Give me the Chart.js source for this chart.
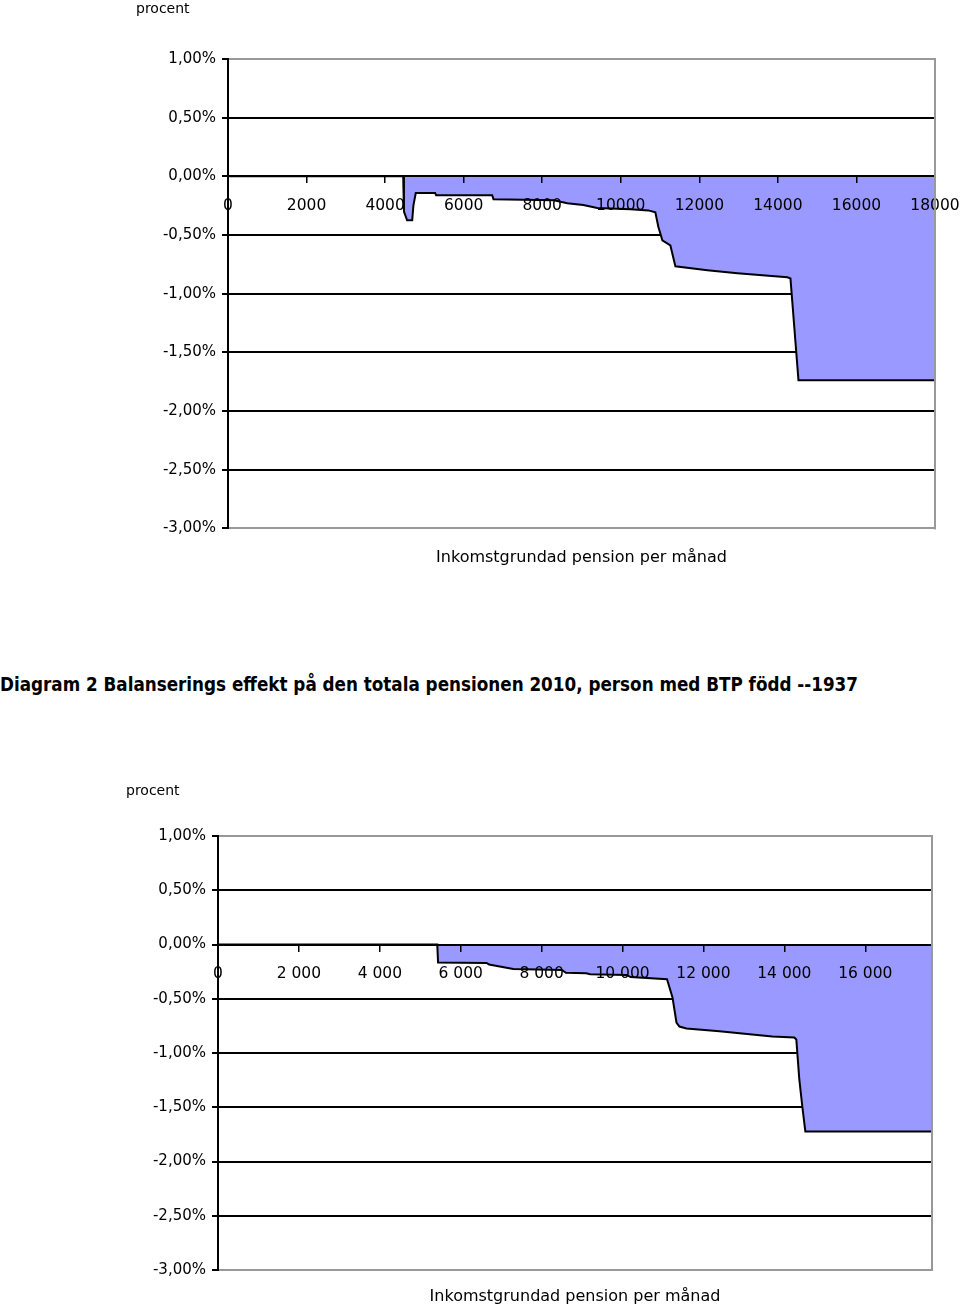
<!DOCTYPE html>
<html>
<head>
<meta charset="utf-8">
<script src="https://cdn.jsdelivr.net/npm/chart.js@4.4.1/dist/chart.umd.min.js"></script>
<style>
  html, body { margin: 0; padding: 0; background: #fff; }
  body { width: 960px; height: 1306px; position: relative; overflow: hidden; }
  canvas { position: absolute; left: 0; }
  #c1 { top: 0; }
  #c2 { top: 782px; }
  #caption {
    position: absolute; left: 0; top: 673px;
    font: bold 19px "DejaVu Sans Condensed", "DejaVu Sans", sans-serif;
    white-space: nowrap; transform-origin: 0 0; color: #000;
  }
</style>
</head>
<body>
<canvas id="c1" width="960" height="567"></canvas>
<div id="caption">Diagram 2 Balanserings effekt på den totala pensionen 2010, person med BTP född --1937</div>
<canvas id="c2" width="960" height="524"></canvas>
<script>
// upper chart: income (kr/month) and effect in percent
const income1 = [0, 4460, 4480, 4560, 4690, 4720, 4780, 5274, 5300, 6727, 6760, 8300, 8638, 9045, 9402, 10243, 10702, 10880, 10956, 11058, 11262, 11390, 12204, 12969, 14243, 14320, 14524, 18000];
const effect1 = [0, 0, -0.30, -0.375, -0.375, -0.25, -0.142, -0.142, -0.162, -0.162, -0.196, -0.204, -0.23, -0.245, -0.27, -0.28, -0.29, -0.307, -0.43, -0.545, -0.588, -0.767, -0.80, -0.826, -0.86, -0.87, -1.738, -1.738];
const xTicks1 = [0, 2000, 4000, 6000, 8000, 10000, 12000, 14000, 16000, 18000];

// lower chart (person med BTP född 1937)
const income2 = [0, 5420, 5440, 6640, 6700, 7300, 8500, 8600, 9100, 9200, 10100, 10200, 11100, 11235, 11333, 11407, 11580, 12395, 13704, 14247, 14296, 14370, 14444, 14519, 17650];
const effect2 = [0, 0, -0.166, -0.17, -0.185, -0.225, -0.235, -0.26, -0.265, -0.275, -0.28, -0.30, -0.32, -0.488, -0.719, -0.756, -0.774, -0.80, -0.848, -0.857, -0.876, -1.244, -1.493, -1.724, -1.724];
const xTicks2 = [0, 2000, 4000, 6000, 8000, 10000, 12000, 14000, 16000];

const yTicks = [1, 0.5, 0, -0.5, -1, -1.5, -2, -2.5, -3];
const yTitle = 'procent';
const xTitle = 'Inkomstgrundad pension per månad';

const tickFont = { family: '"DejaVu Sans", sans-serif', size: 15 };
const xTickFont = { family: '"DejaVu Sans", sans-serif', size: 15.5 };

// gray frame on the right side of the plot area
const rightFrame = {
  id: 'rightFrame',
  afterDraw(chart) {
    const { ctx, chartArea: a } = chart;
    ctx.save();
    ctx.strokeStyle = '#999';
    ctx.lineWidth = 2;
    ctx.beginPath();
    ctx.moveTo(a.right, a.top - 1);
    ctx.lineTo(a.right, a.bottom + 1);
    ctx.stroke();
    ctx.restore();
  }
};

function makeChart(id, xs, ys, xTicks, xMax, spaced, pad) {
  const fmtX = v => spaced ? String(v).replace(/\B(?=(\d{3})+(?!\d))/g, ' ') : String(v);
  const yMax = Math.max(...yTicks), yMin = Math.min(...yTicks);
  return new Chart(document.getElementById(id), {
    type: 'line',
    data: {
      datasets: [{
        data: xs.map((x, i) => ({ x: x, y: ys[i] })),
        borderColor: '#000',
        borderWidth: 2,
        backgroundColor: '#9999ff',
        fill: 'origin',
        pointRadius: 0,
        tension: 0
      }]
    },
    options: {
      responsive: false,
      animation: false,
      devicePixelRatio: 1,
      layout: { padding: { left: pad.left, right: pad.right, top: 0, bottom: 0 }, autoPadding: false },
      scales: {
        x: {
          type: 'linear',
          position: { y: 0 },
          min: 0,
          max: xMax,
          afterFit: s => { s.height = 0; s.paddingLeft = 0; s.paddingRight = 0; },
          afterBuildTicks: s => { s.ticks = xTicks.map(v => ({ value: v })); },
          ticks: { autoSkip: false, maxRotation: 0, padding: 14, color: '#000', font: xTickFont, z: 1, callback: v => fmtX(v) },
          grid: { drawOnChartArea: false, tickLength: 6, color: '#000', lineWidth: 1.5, z: 1 },
          border: { display: true, color: '#000', width: 2, z: 1 }
        },
        y: {
          min: yMin,
          max: yMax,
          afterFit: s => { s.width = 92; s.paddingTop = 0; s.paddingBottom = 0; },
          afterBuildTicks: s => { s.ticks = yTicks.map(v => ({ value: v })); },
          ticks: { padding: 6, color: '#000', font: tickFont, callback: v => v.toFixed(2).replace('.', ',') + '%' },
          grid: {
            color: c => (c.tick && (c.tick.value === yMax || c.tick.value === yMin)) ? '#999' : '#000',
            lineWidth: 2,
            tickColor: '#000',
            tickLength: 6
          },
          border: { color: '#000', width: 2 }
        }
      },
      plugins: {
        legend: { display: false },
        tooltip: { enabled: false },
        title: {
          display: true, text: yTitle, align: 'start', position: 'top', color: '#000',
          font: { family: '"DejaVu Sans", sans-serif', size: 14, weight: 'normal' },
          padding: { top: 1, bottom: pad.titleBottom }
        },
        subtitle: {
          display: true, text: xTitle, align: 'center', position: 'bottom', fullSize: false, color: '#000',
          font: { family: '"DejaVu Sans", sans-serif', size: 16, weight: 'normal' },
          padding: { top: pad.subTop, bottom: 0 }
        }
      }
    },
    plugins: [rightFrame]
  });
}

makeChart('c1', income1, effect1, xTicks1, 18000, false, { left: 136, right: 25, titleBottom: 41.2, subTop: 19.4 });
makeChart('c2', income2, effect2, xTicks2, 17650, true, { left: 126, right: 28, titleBottom: 36.2, subTop: 16.8 });

// stretch the caption to the width it has in the report
const cap = document.getElementById('caption');
cap.style.transform = 'scaleX(' + (858 / cap.getBoundingClientRect().width) + ')';
</script>
</body>
</html>
